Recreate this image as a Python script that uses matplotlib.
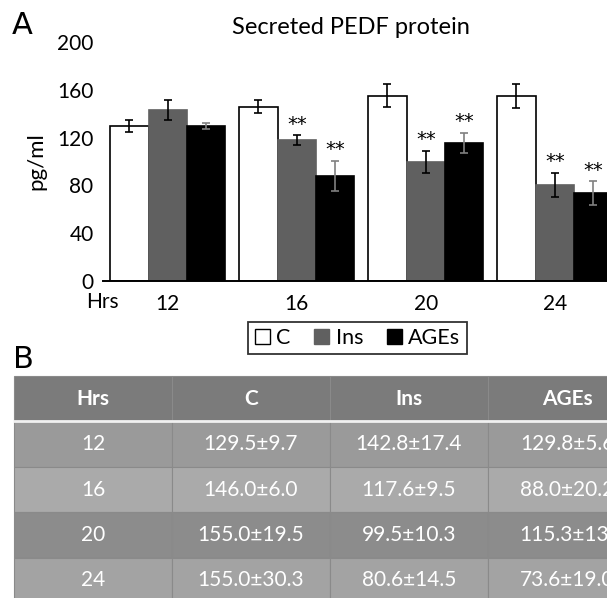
import matplotlib.pyplot as plt
import numpy as np
from matplotlib.patches import Patch

plt.rcParams['font.family'] = ['Lato', 'DejaVu Sans']

# datos
hrs = ['12', '16', '20', '24']
grupos = ['C', 'Ins', 'AGEs']
c_val = [129.5, 146.0, 155.0, 155.0]
ins_val = [142.8, 117.6, 99.5, 80.6]
ages_val = [129.8, 88.0, 115.3, 73.6]
# barras de error
c_err = [4.9, 5.4, 9.5, 9.9]
ins_err = [8.4, 4.2, 9.1, 9.9]
ages_err = [2.8, 12.8, 8.5, 9.8]
# significancia (** sobre Ins y AGEs)
ins_sig = [False, True, True, True]
ages_sig = [False, True, True, True]
# tabla
c_sd = ['129.5±9.7', '146.0±6.0', '155.0±19.5', '155.0±30.3']
ins_sd = ['142.8±17.4', '117.6±9.5', '99.5±10.3', '80.6±14.5']
ages_sd = ['129.8±5.6', '88.0±20.2', '115.3±13.', '73.6±19.0']

W, H = 607, 598
fig = plt.figure(figsize=(W/100, H/100), dpi=100)

# panel A
ax = fig.add_axes([103.3/W, 1-281/H, 516/W, 239/H])
x = np.arange(len(hrs)) + 0.5
bw = 0.298
colores = ['white', '#606060', 'black']
bordes = ['black', '#606060', 'black']
ecol = ['black', 'black', '#808080']
series = [c_val, ins_val, ages_val]
errores = [c_err, ins_err, ages_err]
for k in range(3):
    ax.bar(x + (k-1)*bw, series[k], bw, color=colores[k], edgecolor=bordes[k],
           linewidth=1.2, yerr=errores[k], capsize=3,
           error_kw=dict(ecolor=ecol[k], elinewidth=1.2, capthick=1.2))
for sig, vals, errs, k in [(ins_sig, ins_val, ins_err, 1), (ages_sig, ages_val, ages_err, 2)]:
    for i in range(len(hrs)):
        if sig[i]:
            ax.text(x[i] + (k-1)*bw, vals[i] + errs[i] + 1.5, '**', ha='center',
                    va='bottom', fontsize=14, family='DejaVu Sans')

ax.set_xlim(0, 4)
ax.set_ylim(0, 200)
ax.set_yticks([0, 40, 80, 120, 160, 200])
ax.set_xticks(x)
ax.set_xticklabels(hrs)
ax.tick_params(length=0, labelsize=15)
ax.tick_params(axis='y', pad=7)
ax.tick_params(axis='x', pad=9)
for s in ['top', 'right', 'left']:
    ax.spines[s].set_visible(False)
ax.spines['bottom'].set_linewidth(1.4)
ax.set_ylabel('pg/ml', fontsize=16, labelpad=8)
fig.text(102/W, 1-302/H, 'Hrs', ha='center', va='center', fontsize=15)
fig.text(351/W, 1-27/H, 'Secreted PEDF protein', ha='center', va='center', fontsize=17)
fig.text(12/W, 1-26/H, 'A', ha='left', va='center', fontsize=22, family='DejaVu Sans')
fig.text(13/W, 1-359/H, 'B', ha='left', va='center', fontsize=22, family='DejaVu Sans')

handles = [Patch(facecolor=colores[k], edgecolor='black' if k == 0 else colores[k],
                 linewidth=1) for k in range(3)]
leg = fig.legend(handles, grupos, loc='center', bbox_to_anchor=(357.5/W, 1-338/H),
                 ncol=3, fontsize=15.5, frameon=True, fancybox=False,
                 handlelength=0.7, handleheight=0.7, handletextpad=0.3,
                 columnspacing=1.1, borderpad=0.3)
leg.get_frame().set_edgecolor('black')
leg.get_frame().set_linewidth(1.3)

# panel B - tabla
tax = fig.add_axes([14/W, 1-603/H, 632/W, 227/H])
tax.axis('off')
filas = [[hrs[i], c_sd[i], ins_sd[i], ages_sd[i]] for i in range(len(hrs))]
fondo = ['#9a9a9a', '#aaaaaa', '#8c8c8c', '#a3a3a3']
tabla = tax.table(cellText=[['Hrs'] + grupos] + filas, bbox=[0, 0, 1, 1],
                  cellLoc='center')
tabla.auto_set_font_size(False)
for (r, c), cell in tabla.get_celld().items():
    cell.set_edgecolor('#8a8a8a')
    cell.set_linewidth(0.8)
    cell.get_text().set_color('white')
    cell.get_text().set_fontsize(15)
    if r == 0:
        cell.set_facecolor('#7b7b7b')
        cell.get_text().set_fontweight('bold')
    else:
        cell.set_facecolor(fondo[r-1])
tax.axhline(0.8, color='#f0f0f0', linewidth=2)

fig.savefig('out.png', dpi=100)
